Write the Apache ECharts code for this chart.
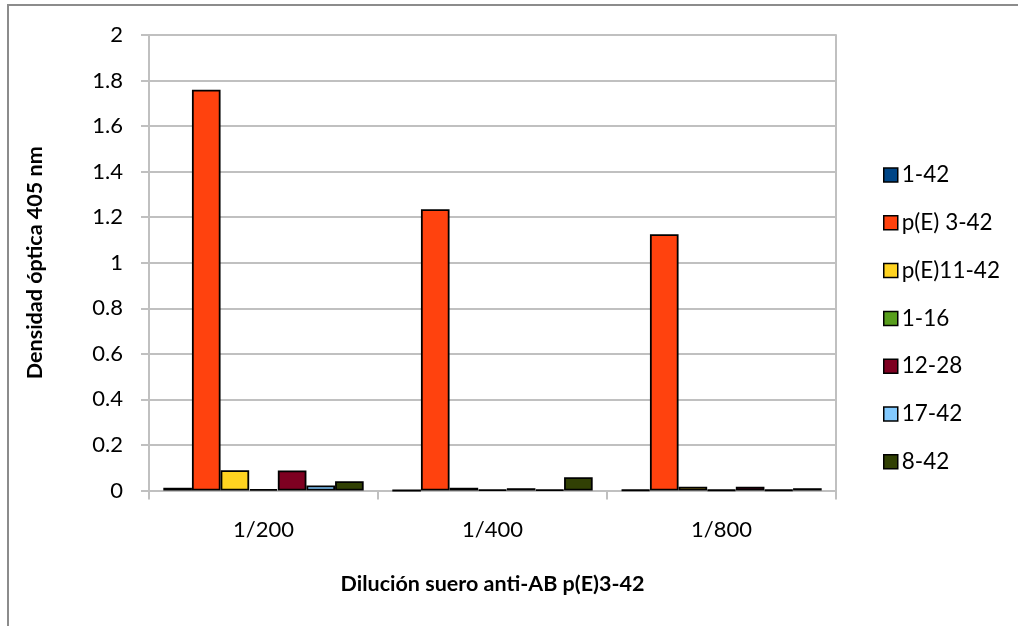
<!DOCTYPE html>
<html>
<head>
<meta charset="utf-8">
<script src="https://cdn.jsdelivr.net/npm/echarts@6/dist/echarts.min.js"></script>
<style>
  html, body { margin: 0; padding: 0; background: #fff; }
  #chart { width: 1018px; height: 626px; }
</style>
</head>
<body>
<div id="chart"></div>
<script>
// Dilution categories on the x axis
const categories = ['1/200', '1/400', '1/800'];

// Peptide names (legend order)
const seriesNames = ['1-42', 'p(E) 3-42', 'p(E)11-42', '1-16', '12-28', '17-42', '8-42'];

// Optical density at 405 nm per peptide, one value per dilution
const od_1_42    = [0.012, 0.000, 0.002];
const od_pE3_42  = [1.760, 1.235, 1.125];
const od_pE11_42 = [0.089, 0.012, 0.017];
const od_1_16    = [0.006, 0.003, 0.002];
const od_12_28   = [0.088, 0.010, 0.017];
const od_17_42   = [0.022, 0.003, 0.002];
const od_8_42    = [0.041, 0.058, 0.010];

const seriesValues = [od_1_42, od_pE3_42, od_pE11_42, od_1_16, od_12_28, od_17_42, od_8_42];
const seriesColors = ['#004586', '#ff420e', '#ffd320', '#579d1c', '#7e0021', '#83caff', '#314004'];

const FONT = 'Lato, "Open Sans", sans-serif';
const GRID_COLOR = '#c0c0c0';

const chart = echarts.init(document.getElementById('chart'));

chart.setOption({
  backgroundColor: '#fff',
  animation: false,
  textStyle: { fontFamily: FONT, color: '#000' },
  graphic: [{
    type: 'rect',
    shape: { x: 8, y: 5, width: 1040, height: 660 },
    style: { fill: 'none', stroke: '#8c8c8c', lineWidth: 2 },
    silent: true
  }],
  grid: { left: 149, right: 182, top: 35, bottom: 135.5 },
  legend: {
    orient: 'vertical',
    left: 878,
    top: 158,
    itemWidth: 14,
    itemHeight: 14,
    itemGap: 23.8,
    icon: 'rect',
    data: seriesNames,
    itemStyle: { borderColor: '#000', borderWidth: 1.5 },
    textStyle: { fontFamily: FONT, fontSize: 22.5, color: '#000', lineHeight: 24, padding: [0, 0, 0, -1] }
  },
  xAxis: {
    type: 'category',
    data: categories,
    name: 'Dilución suero anti-AB p(E)3-42',
    nameLocation: 'middle',
    nameGap: 83,
    nameTextStyle: { fontFamily: FONT, fontSize: 21.5, fontWeight: 'bold', color: '#000' },
    axisLine: { show: true, lineStyle: { color: GRID_COLOR, width: 2 } },
    axisTick: { show: true, length: 9, lineStyle: { color: GRID_COLOR, width: 2 } },
    axisLabel: { margin: 28, fontSize: 22, color: '#000', fontFamily: FONT }
  },
  yAxis: [{
    type: 'value',
    min: 0,
    max: 2,
    interval: 0.2,
    name: 'Densidad óptica 405 nm',
    nameLocation: 'middle',
    nameGap: 103,
    nameRotate: 90,
    nameTextStyle: { fontFamily: FONT, fontSize: 21.5, fontWeight: 'bold', color: '#000' },
    axisLine: { show: true, lineStyle: { color: GRID_COLOR, width: 2 } },
    axisTick: { show: true, length: 8, lineStyle: { color: GRID_COLOR, width: 2 } },
    axisLabel: { margin: 26, fontSize: 22, color: '#000', fontFamily: FONT },
    splitLine: { show: true, lineStyle: { color: GRID_COLOR, width: 2 } }
  }, {
    type: 'value',
    min: 0,
    max: 2,
    interval: 0.2,
    position: 'right',
    axisLine: { show: true, lineStyle: { color: GRID_COLOR, width: 2 } },
    axisTick: { show: false },
    axisLabel: { show: false },
    splitLine: { show: false }
  }],
  series: seriesNames.map((name, i) => ({
    name: name,
    type: 'bar',
    data: seriesValues[i],
    barGap: '0%',
    barCategoryGap: '12.5%',
    itemStyle: { color: seriesColors[i], borderColor: '#000', borderWidth: 1.8 }
  }))
});
</script>
</body>
</html>
